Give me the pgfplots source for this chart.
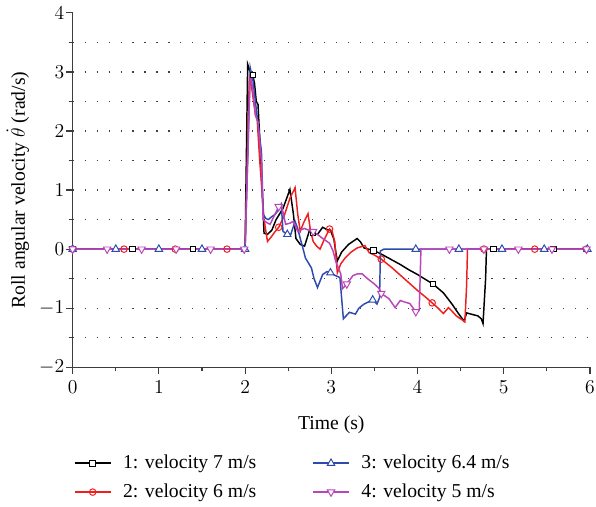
\documentclass[12pt,border=0pt]{standalone}
\usepackage{fontspec}
\setmainfont{Liberation Serif}
\usepackage{pgfplots}
\pgfplotsset{compat=1.18}
\definecolor{cred}{RGB}{240,30,30}
\definecolor{cblue}{RGB}{45,75,175}
\definecolor{cpurple}{RGB}{185,70,185}
\definecolor{axgray}{RGB}{60,60,60}
\begin{document}
\begin{tikzpicture}[trim right=319.3pt]
\begin{axis}[
  scale only axis,
  width=315.6pt, height=216.2pt,
  xmin=0, xmax=6, ymin=-2, ymax=4,
  axis x line=bottom, axis y line=left,
  axis line style={-, draw=axgray, line width=0.8pt},
  xtick={0,1,...,6}, ytick={-2,-1,...,4},
  minor x tick num=1, minor y tick num=1,
  tick align=outside,
  major tick length=4pt, minor tick length=2.5pt,
  tick style={draw=axgray, line width=0.7pt},
  yticklabel style={inner xsep=1pt},
  extra y ticks={-1.5,-1,-0.5,0.5,1,1.5,2,2.5,3,3.5},
  extra y tick labels={},
  extra y tick style={major tick length=0pt, grid=major,
     major grid style={draw=black!75, line width=0.7pt, dash pattern=on 0.7pt off 6.6pt}},
  xlabel={Time (s)},
  ylabel={Roll angular velocity $\dot{\theta}$ (rad/s)},
  xlabel style={yshift=-5.5pt},
  ylabel style={yshift=-3pt},
  legend columns=2,
  legend style={draw=none, fill=none, at={(-0.008,-0.228)}, anchor=north west,
     /tikz/every odd column/.append style={column sep=5pt},
     /tikz/every even column/.append style={column sep=32pt},
     row sep=3.5pt},
  legend cell align=left,
  legend image code/.code={\draw[mark repeat=2,mark phase=2] plot coordinates {(0cm,0cm) (0.39cm,0cm) (0.78cm,0cm)};},
  every axis plot/.append style={line width=0.9pt},
]
% black: 7 m/s
\addplot[black, forget plot] coordinates {
(0,0) (2.0,0) (2.03,3.13) (2.06,3.0) (2.09,2.95) (2.11,2.8) (2.13,2.5) (2.15,2.45) (2.18,1.6) (2.22,0.27) (2.26,0.25) (2.31,0.32) (2.36,0.5) (2.44,0.69) (2.52,1.01) (2.56,0.6) (2.59,0.18) (2.64,0.08) (2.69,0.05) (2.75,0.33) (2.79,0.27) (2.84,0.25) (2.90,0.37) (2.95,0.33) (2.99,0.32) (3.03,0.17) (3.05,-0.03) (3.07,-0.2) (3.12,-0.05) (3.2,0.08) (3.30,0.18) (3.34,0.12) (3.38,0.02) (3.43,0.0) (3.49,-0.02) (3.6,-0.1) (3.7,-0.18) (3.8,-0.26) (3.9,-0.35) (4.0,-0.43) (4.1,-0.52) (4.18,-0.59) (4.3,-0.74) (4.4,-0.93) (4.47,-1.08) (4.54,-1.22) (4.57,-1.08) (4.62,-1.1) (4.70,-1.13) (4.74,-1.18) (4.76,-1.26) (4.79,-0.5) (4.80,0) (6,0)
};
% red: 6 m/s
\addplot[cred, forget plot] coordinates {
(0,0) (2.0,0) (2.05,2.95) (2.08,2.7) (2.12,2.27) (2.14,2.2) (2.17,1.5) (2.22,0.5) (2.26,0.13) (2.30,0.2) (2.35,0.3) (2.39,0.37) (2.45,0.55) (2.52,0.86) (2.58,1.04) (2.61,0.6) (2.64,0.3) (2.68,0.45) (2.73,0.6) (2.76,0.3) (2.79,0.13) (2.83,0.05) (2.87,0.0) (2.92,0.17) (2.98,0.34) (3.01,0.3) (3.04,0.13) (3.07,-0.4) (3.11,-0.25) (3.16,-0.15) (3.23,-0.05) (3.30,0.02) (3.39,0.06) (3.44,-0.06) (3.50,-0.1) (3.58,-0.17) (3.7,-0.31) (3.8,-0.44) (3.9,-0.57) (4.0,-0.7) (4.1,-0.82) (4.17,-0.91) (4.24,-1.0) (4.30,-1.09) (4.36,-0.99) (4.40,-1.05) (4.45,-1.13) (4.50,-1.18) (4.55,-1.23) (4.57,-0.6) (4.58,0) (6,0)
};
% blue: 6.4 m/s
\addplot[cblue, forget plot] coordinates {
(0,0) (2.0,0) (2.06,3.07) (2.09,2.87) (2.13,2.37) (2.19,1.65) (2.21,0.59) (2.24,0.52) (2.27,0.5) (2.31,0.55) (2.35,0.59) (2.38,0.65) (2.42,0.76) (2.44,0.3) (2.49,0.25) (2.53,0.25) (2.58,0.47) (2.61,0.35) (2.64,0.18) (2.67,0.02) (2.70,-0.15) (2.77,-0.32) (2.80,-0.5) (2.84,-0.65) (2.90,-0.43) (2.95,-0.38) (2.99,-0.4) (3.05,-0.45) (3.10,-0.48) (3.14,-1.18) (3.21,-1.07) (3.28,-1.10) (3.32,-1.0) (3.38,-0.93) (3.48,-0.86) (3.53,-0.93) (3.56,-0.82) (3.57,-0.03) (3.61,0) (6,0)
};
% purple: 5 m/s
\addplot[cpurple, forget plot] coordinates {
(0,0) (2.0,0) (2.06,2.99) (2.09,2.7) (2.12,2.27) (2.15,2.15) (2.19,1.48) (2.21,0.5) (2.25,0.45) (2.29,0.42) (2.35,0.6) (2.39,0.72) (2.42,0.76) (2.47,0.42) (2.52,0.44) (2.56,0.47) (2.61,0.3) (2.65,0.33) (2.69,0.35) (2.77,0.3) (2.84,0.25) (2.90,0.18) (2.98,0.1) (3.02,-0.03) (3.05,-0.2) (3.11,-0.42) (3.13,-0.67) (3.18,-0.59) (3.25,-0.45) (3.30,-0.42) (3.36,-0.42) (3.42,-0.5) (3.50,-0.59) (3.55,-0.66) (3.59,-0.76) (3.67,-0.84) (3.74,-0.99) (3.80,-0.87) (3.86,-0.9) (3.91,-0.92) (3.98,-1.06) (4.02,-1.04) (4.04,0) (6,0)
};
% markers
\addplot[black, only marks, mark=square*, mark size=1.7pt, mark options={fill=white, line width=0.6pt}, forget plot] coordinates {
(0,0) (0.697,0) (1.394,0) (2.09,2.95) (2.79,0.27) (3.49,-0.02) (4.18,-0.59) (4.88,0) (5.58,0)
};
\addplot[cred, only marks, mark=o, mark size=2pt, mark options={fill=white, line width=0.6pt}, forget plot] coordinates {
(0,0) (0.596,0) (1.19,0) (1.79,0) (2.39,0.37) (2.98,0.34) (3.58,-0.17) (4.17,-0.91) (4.77,0) (5.36,0) (5.96,0)
};
\addplot[cblue, only marks, mark=triangle*, mark size=2.6pt, mark options={fill=white, line width=0.6pt}, forget plot] coordinates {
(0,0) (0.5,0) (1.0,0) (1.5,0) (2.0,0) (2.49,0.25) (2.99,-0.4) (3.48,-0.86) (3.98,0) (4.48,0) (4.98,0) (5.47,0) (5.97,0)
};
\addplot[cpurple, only marks, mark=triangle*, mark size=2.6pt, mark options={fill=white, line width=0.6pt, rotate=180}, forget plot] coordinates {
(0,0) (0.4,0) (0.8,0) (1.2,0) (1.6,0) (1.99,0) (2.39,0.72) (2.79,0.3) (3.18,-0.59) (3.58,-0.75) (3.98,-1.06) (4.37,0) (4.77,0) (5.17,0) (5.56,0) (5.96,0)
};
\addlegendimage{black, line width=0.9pt, mark=square*, mark size=1.7pt, mark options={fill=white, line width=0.6pt}}
\addlegendentry{1: velocity 7 m/s}
\addlegendimage{cblue, line width=0.9pt, mark=triangle*, mark size=2.6pt, mark options={fill=white, line width=0.6pt}}
\addlegendentry{3: velocity 6.4 m/s}
\addlegendimage{cred, line width=0.9pt, mark=o, mark size=2pt, mark options={fill=white, line width=0.6pt}}
\addlegendentry{2: velocity 6 m/s}
\addlegendimage{cpurple, line width=0.9pt, mark=triangle*, mark size=2.6pt, mark options={fill=white, line width=0.6pt, rotate=180}}
\addlegendentry{4: velocity 5 m/s}
\end{axis}
\end{tikzpicture}
\end{document}
